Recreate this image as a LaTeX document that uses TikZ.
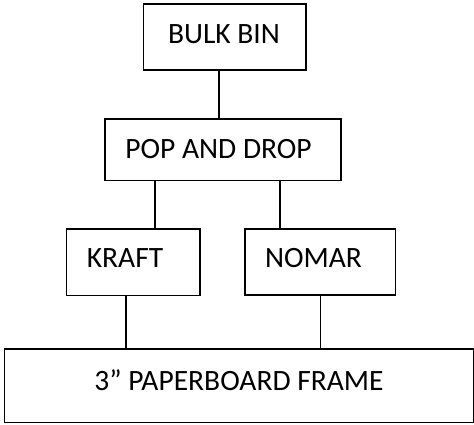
\documentclass[tikz,border=0pt]{standalone}
\usepackage{fontspec}
\setmainfont{Carlito}
\begin{document}
\begin{tikzpicture}[x=1pt,y=1pt,
  box/.style={draw=black,line width=1.2pt,rectangle,inner sep=0pt},
  lbl/.style={font=\fontsize{29.5}{35}\selectfont,inner sep=0pt},
  conn/.style={draw=black,line width=1.2pt}]
\useasboundingbox (0,0) rectangle (474,424);
\node[box,minimum width=162.3pt,minimum height=66pt,
  label={[lbl,xshift=-0.8pt,yshift=2.8pt]center:BULK BIN}] (bulk) at (224.8,387) {};
\node[box,minimum width=236pt,minimum height=61.5pt,
  label={[lbl,xshift=-4.5pt,yshift=1pt]center:POP AND DROP}] (pop) at (223,274.25) {};
\node[box,minimum width=133.3pt,minimum height=66.3pt,
  label={[lbl,xshift=-8.3pt,yshift=3.7pt]center:KRAFT}] (kraft) at (133.3,161.8) {};
\node[box,minimum width=150.7pt,minimum height=66pt,
  label={[lbl,xshift=-6.8pt,yshift=3.5pt]center:NOMAR}] (nomar) at (320.3,162) {};
\node[box,minimum width=468.6pt,minimum height=73.7pt,
  label={[lbl,yshift=6pt]center:3” PAPERBOARD FRAME}] (frame) at (239,38.2) {};
\draw[conn] ([xshift=-5.8pt]bulk.south) -- ([xshift=-5.8pt]bulk.south |- pop.north);
\draw[conn] ([xshift=21.7pt]kraft.north) -- ([xshift=21.7pt]kraft.north |- pop.south);
\draw[conn] ([xshift=-40.3pt]nomar.north) -- ([xshift=-40.3pt]nomar.north |- pop.south);
\draw[conn] ([xshift=-7.3pt]kraft.south) -- ([xshift=-7.3pt]kraft.south |- frame.north);
\draw[conn] (nomar.south) -- (nomar.south |- frame.north);
\end{tikzpicture}
\end{document}
